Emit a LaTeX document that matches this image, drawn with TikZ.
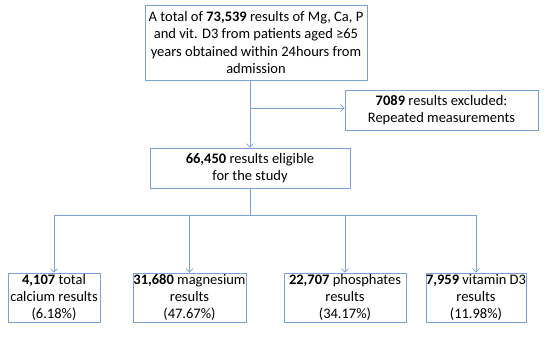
\documentclass[tikz,border=0pt]{standalone}
\usepackage{fontspec}
\setmainfont{Carlito}
\usetikzlibrary{arrows.meta}
\definecolor{boxblue}{RGB}{125,160,210}
\begin{document}
\begin{tikzpicture}[x=1pt,y=-1pt,
  box/.style={draw=boxblue,line width=0.9pt,fill=white,inner sep=0pt,align=center,font=\fontsize{14.5}{17.2}\selectfont},
  conn/.style={draw=boxblue,line width=0.9pt},
  arr/.style={conn,-{Straight Barb[length=3.5pt,width=7pt,line width=0.7pt]}}]
\useasboundingbox (0,0) rectangle (550,339);
\node[box,minimum width=222pt,minimum height=75pt] (top) at (256,42.5) {A total of \textbf{73,539} results of Mg, Ca, P\\and vit. D3 from patients aged ≥65\\years obtained within 24hours from\\admission};
\node[box,minimum width=193pt,minimum height=40pt] (excl) at (441.5,110) {\textbf{7089} results excluded:\\Repeated measurements};
\node[box,minimum width=200pt,minimum height=40pt] (elig) at (250,168) {\textbf{66,450} results eligible\\for the study};
\node[box,minimum width=92pt,minimum height=49pt] (b1) at (54,297.5) {\textbf{4,107} total\\calcium results\\(6.18\%)};
\node[box,minimum width=113pt,minimum height=49pt] (b2) at (189.5,297.5) {\textbf{31,680} magnesium\\results\\(47.67\%)};
\node[box,minimum width=122pt,minimum height=49pt] (b3) at (345,297.5) {\textbf{22,707} phosphates\\results\\(34.17\%)};
\node[box,minimum width=98pt,minimum height=49pt] (b4) at (476,297.5) {\textbf{7,959} vitamin D3\\results\\(11.98\%)};
\coordinate (j1) at (250,108);
\coordinate (j2) at (250,215);
\draw[arr] (top.south -| j1) -- (elig.north);
\draw[arr] (j1) -- (excl.west |- j1);
\draw[conn] (elig.south) -- (j2);
\draw[conn] (b1.north |- j2) -- (b4.north |- j2);
\draw[arr] (b1.north |- j2) -- (b1.north);
\draw[arr] (b2.north |- j2) -- (b2.north);
\draw[arr] (b3.north |- j2) -- (b3.north);
\draw[arr] (b4.north |- j2) -- (b4.north);
\end{tikzpicture}
\end{document}
